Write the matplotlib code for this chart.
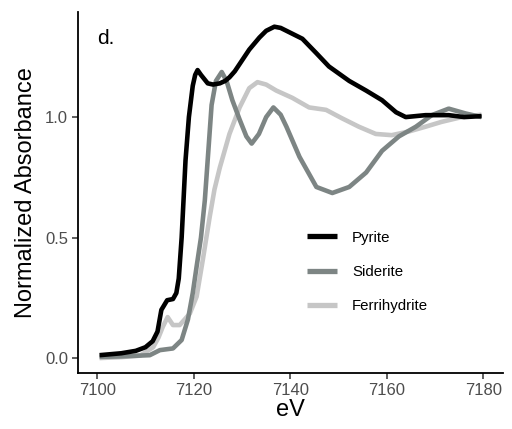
import numpy as np
import matplotlib
matplotlib.use("Agg")
import matplotlib.pyplot as plt

plt.rcParams['font.family'] = ['Liberation Sans', 'DejaVu Sans']

# Fe K-edge XANES spectra
pyrite_ev = [7100.5, 7105, 7108, 7110, 7111.5, 7112.5, 7113.3, 7114.5, 7115.7, 7116.4,
             7116.9, 7117.5, 7117.9, 7118.3, 7119.0, 7119.8, 7120.3, 7120.8, 7121.5,
             7122.9, 7124, 7125.4, 7126.5, 7127.4, 7128.5, 7129.5, 7131.5, 7133.6,
             7135.0, 7136.7, 7138.0, 7139.5, 7142.5, 7145.4, 7148, 7152.2, 7155.7,
             7159, 7161.9, 7163.9, 7168, 7172.8, 7176, 7179.6]
pyrite_y = [0.012, 0.02, 0.03, 0.045, 0.07, 0.11, 0.2, 0.24, 0.245, 0.27,
            0.33, 0.5, 0.66, 0.82, 1.0, 1.13, 1.175, 1.195, 1.175,
            1.14, 1.135, 1.14, 1.15, 1.165, 1.19, 1.22, 1.28, 1.33,
            1.358, 1.375, 1.37, 1.355, 1.325, 1.265, 1.21, 1.15, 1.11,
            1.07, 1.02, 1.0, 1.008, 1.008, 1.0, 1.004]

siderite_ev = [7100.5, 7105, 7110.9, 7113, 7115.7, 7117.5, 7118.8, 7119.8, 7120.6,
               7121.5, 7122.3, 7123.1, 7123.7, 7124.6, 7125.8, 7126.8, 7128, 7129.5,
               7130.9, 7132, 7133.5, 7135.0, 7136.5, 7138, 7139.2, 7141.9, 7145.4,
               7148.7, 7152.2, 7155.7, 7159, 7162.5, 7166, 7169.3, 7172.8, 7176.3,
               7179.6]
siderite_y = [0.005, 0.007, 0.012, 0.033, 0.04, 0.075, 0.16, 0.27, 0.38,
              0.5, 0.655, 0.88, 1.05, 1.15, 1.187, 1.15, 1.07, 0.99,
              0.92, 0.89, 0.93, 1.0, 1.04, 1.01, 0.96, 0.835, 0.71,
              0.685, 0.71, 0.77, 0.86, 0.92, 0.96, 1.008, 1.035, 1.015,
              1.0]

ferri_ev = [7100.5, 7105, 7108.9, 7111.6, 7112.7, 7113.6, 7114.6, 7115.7, 7117.1,
            7119.2, 7120.6, 7121.9, 7123.3, 7124.3, 7125.4, 7127.4, 7129.5, 7131.5,
            7133.2, 7135, 7137.1, 7140.4, 7143.9, 7147.4, 7150.7, 7154.2, 7157.7,
            7161, 7164.5, 7168, 7171.3, 7175.5, 7179.6]
ferri_y = [0.0, 0.004, 0.01, 0.045, 0.085, 0.13, 0.17, 0.137, 0.137,
           0.185, 0.255, 0.41, 0.585, 0.7, 0.79, 0.93, 1.04, 1.12,
           1.145, 1.135, 1.11, 1.08, 1.04, 1.03, 0.995, 0.96, 0.93,
           0.925, 0.94, 0.96, 0.98, 1.0, 1.01]

fig = plt.figure(figsize=(5.12, 4.29), dpi=100)
ax = fig.add_axes([0.152, 0.1305, 0.83, 0.8415])

ax.plot(ferri_ev, ferri_y, color='#c6c6c6', lw=3.3, label='Ferrihydrite', solid_capstyle='butt')
ax.plot(siderite_ev, siderite_y, color='#7d8584', lw=3.3, label='Siderite', solid_capstyle='butt')
ax.plot(pyrite_ev, pyrite_y, color='black', lw=3.3, label='Pyrite', solid_capstyle='butt')

ax.set_xlim(7096, 7184)
ax.set_ylim(-0.062, 1.436)
ax.set_xticks([7100, 7120, 7140, 7160, 7180])
ax.set_yticks([0.0, 0.5, 1.0])
ax.set_yticklabels(['0.0', '0.5', '1.0'])
ax.tick_params(labelsize=12, labelcolor='#4d4d4d', color='#333333', length=4, width=1.1, pad=3)
for s in ['top', 'right']:
    ax.spines[s].set_visible(False)
for s in ['left', 'bottom']:
    ax.spines[s].set_linewidth(1.3)

ax.set_xlabel('eV', fontsize=17, labelpad=1)
ax.set_ylabel('Normalized Absorbance', fontsize=17, labelpad=6)
ax.text(0.045, 0.928, 'd.', transform=ax.transAxes, fontsize=15, va='center', ha='left')

h, l = ax.get_legend_handles_labels()
leg = ax.legend(h[::-1], l[::-1], loc='center left', bbox_to_anchor=(0.539, 0.28), frameon=False,
                fontsize=10.8, handlelength=2.0, handletextpad=1.0, labelspacing=1.35,
                borderpad=0, borderaxespad=0)
for line in leg.get_lines():
    line.set_linewidth(3.8)

fig.savefig('out.png', dpi=100)
